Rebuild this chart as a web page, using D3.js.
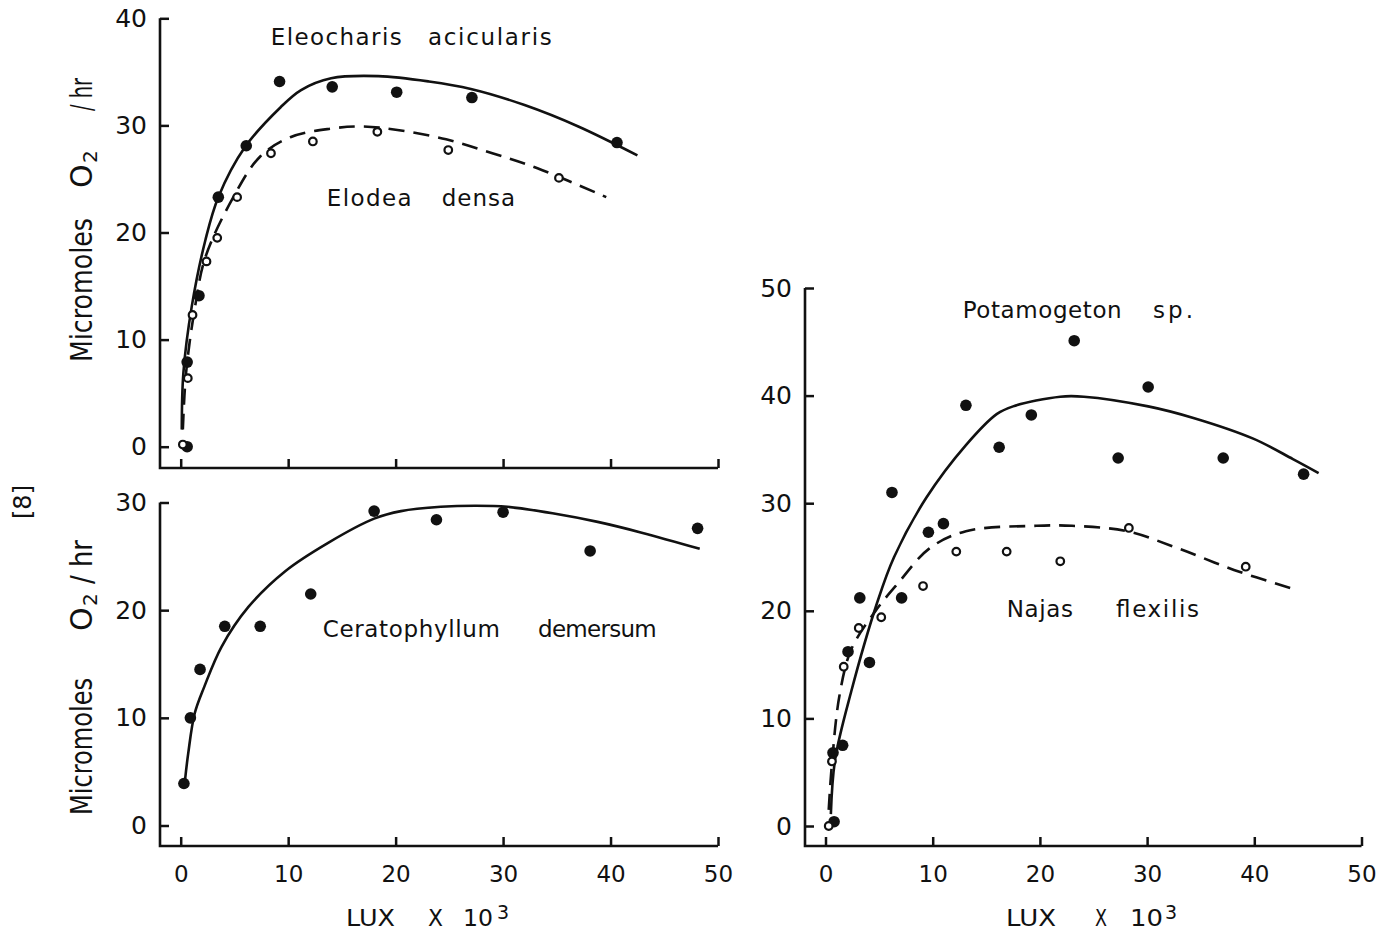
<!DOCTYPE html>
<html>
<head>
<meta charset="utf-8">
<script src="https://cdn.jsdelivr.net/npm/d3@7"></script>
<style>
body { margin: 0; background: #fff; }
svg { display: block; font-family: "DejaVu Sans", sans-serif; }
</style>
</head>
<body>
<script>
// values: x = lux x 10^3, y = micromoles O2 / hr

// top left: Eleocharis acicularis (filled) and Elodea densa (open)
const eleocharisPts = [[0.6,0],[0.6,7.9],[1.7,14.1],[3.5,23.3],[6.1,28.1],[9.2,34.1],[14.1,33.6],[20.1,33.1],[27.1,32.6],[40.6,28.4]];
const eleocharisCurve = [[0.1,1.6],[0.25,6.9],[1.03,13.1],[2.3,19.3],[3.5,23.3],[6.0,28],[9.3,31.7],[11.2,33.3],[14,34.4],[18.4,34.6],[23.1,34.1],[27,33.4],[32,31.9],[37,29.9],[42.5,27.2]];
const elodeaPts = [[0.2,0.2],[0.66,6.4],[1.1,12.3],[2.4,17.3],[3.4,19.5],[5.25,23.3],[8.4,27.4],[12.3,28.5],[18.3,29.4],[24.9,27.7],[35.2,25.1]];
const elodeaCurve = [[0.2,1.6],[0.5,6.9],[1.34,13.1],[2.3,17.7],[4.9,23.3],[7.4,27.1],[10.2,28.9],[14,29.7],[16.8,29.9],[20,29.6],[24.7,28.7],[29,27.4],[33.2,26],[39.6,23.3]];

// bottom left: Ceratophyllum demersum
const ceratoPts = [[0.3,3.9],[0.9,10],[1.8,14.5],[4.1,18.5],[7.4,18.5],[12.1,21.5],[18,29.2],[23.8,28.4],[30,29.1],[38.1,25.5],[48.1,27.6]];
const ceratoCurve = [[0.4,4.2],[0.7,6.7],[1.3,10.4],[2.2,12.9],[3.8,16.6],[6.3,20.3],[9.7,23.6],[13.8,26.3],[18,28.5],[20.5,29.2],[24.2,29.6],[27.5,29.7],[30.4,29.6],[34.6,29.0],[38.8,28.2],[42.9,27.2],[48.3,25.7]];

// right: Potamogeton sp. (filled) and Najas flexilis (open)
const potamoPts = [[0.8,0.4],[0.7,6.8],[1.6,7.5],[2.1,16.2],[3.2,21.2],[4.1,15.2],[6.2,31],[7.1,21.2],[9.6,27.3],[11,28.1],[13.1,39.1],[16.2,35.2],[19.2,38.2],[23.2,45.1],[27.3,34.2],[30.1,40.8],[37.1,34.2],[44.6,32.7]];
const potamoCurve = [[0.5,1.1],[0.9,6.2],[2.4,12.5],[4.8,20.7],[6.4,25],[9.4,30.5],[13.1,35.4],[16,38.3],[17.5,39],[21.9,39.9],[24.1,39.9],[30.1,39],[34.4,37.9],[39.9,36],[43.6,34.1],[46,32.8]];
const najasPts = [[0.3,0],[0.6,6],[1.7,14.8],[3.1,18.4],[5.2,19.4],[9.1,22.3],[12.2,25.5],[16.9,25.5],[21.9,24.6],[28.3,27.7],[39.2,24.1]];
const najasCurve = [[0.3,1.5],[0.6,5.8],[1.3,12.1],[2.4,16.4],[4.6,19.9],[6.8,22.6],[9.7,25.8],[13.1,27.4],[19.7,27.9],[23,27.9],[28.1,27.4],[32.9,25.8],[38.1,23.8],[43.4,22.1]];

const xTicks = [0, 10, 20, 30, 40, 50];
const yTicksTop = [0, 10, 20, 30, 40];
const yTicksBottom = [0, 10, 20, 30];
const yTicksRight = [0, 10, 20, 30, 40, 50];

var width = 1381, height = 931;
var svg = d3.select("body").append("svg")
    .attr("width", width)
    .attr("height", height);

var panels = [
    {
        axisX: 160, axisY: 468, xr: [180.7, 718], yr: [446.7, 18.3], ymax: 40,
        yTicks: yTicksTop, xLabels: false,
        series: [
            { pts: eleocharisPts, curve: eleocharisCurve, open: false },
            { pts: elodeaPts, curve: elodeaCurve, open: true }
        ],
        names: [
            { words: ["Eleocharis", "acicularis"], x: [270.7, 428], len: [131, 123.7], y: 45 },
            { words: ["Elodea", "densa"], x: [326.7, 441.7], len: [85, 73.3], y: 206 }
        ]
    },
    {
        axisX: 160, axisY: 846, xr: [180.7, 718], yr: [825.5, 502.5], ymax: 30,
        yTicks: yTicksBottom, xLabels: true,
        series: [
            { pts: ceratoPts, curve: ceratoCurve, open: false }
        ],
        names: [
            { words: ["Ceratophyllum", "demersum"], x: [322.7, 538], len: [177.3, 118.7], y: 637 }
        ]
    },
    {
        axisX: 805, axisY: 846, xr: [825.5, 1361.5], yr: [826, 288], ymax: 50,
        yTicks: yTicksRight, xLabels: true,
        series: [
            { pts: potamoPts, curve: potamoCurve, open: false },
            { pts: najasPts, curve: najasCurve, open: true }
        ],
        names: [
            { words: ["Potamogeton", "sp."], x: [962.7, 1153], len: [159, 40], y: 318 },
            { words: ["Najas", "flexilis"], x: [1006.7, 1116], len: [66.3, 83], y: 617 }
        ]
    }
];

function styleAxis(a, size) {
    a.select(".domain").remove();
    a.attr("font-family", null).attr("font-size", null);
    a.selectAll("line").attr("stroke", "#111").attr("stroke-width", 2.5);
    a.selectAll("text").attr("fill", "#111").attr("font-size", size);
}

panels.forEach(p => {
    var x = d3.scaleLinear().domain([0, 50]).range(p.xr);
    var y = d3.scaleLinear().domain([0, p.ymax]).range(p.yr);
    var g = svg.append("g");

    // axis frame (left + bottom)
    g.append("path")
        .attr("d", "M" + p.axisX + "," + y(p.ymax) + "V" + p.axisY + "H" + x(50))
        .attr("fill", "none")
        .attr("stroke", "#111")
        .attr("stroke-width", 2.6);

    g.append("g")
        .attr("transform", "translate(0," + p.axisY + ")")
        .call(d3.axisBottom(x).tickValues(xTicks).tickSizeInner(-9).tickSizeOuter(0).tickPadding(20)
            .tickFormat(p.xLabels ? d3.format("d") : ""))
        .call(a => styleAxis(a, 23));

    g.append("g")
        .attr("transform", "translate(" + p.axisX + ",0)")
        .call(d3.axisLeft(y).tickValues(p.yTicks).tickSizeInner(-9).tickSizeOuter(0).tickPadding(13)
            .tickFormat(d3.format("d")))
        .call(a => styleAxis(a, 25));

    var line = d3.line()
        .x(d => x(d[0]))
        .y(d => y(d[1]))
        .curve(d3.curveCatmullRom.alpha(0.5));

    p.series.forEach(s => {
        g.append("path")
            .attr("d", line(s.curve))
            .attr("fill", "none")
            .attr("stroke", "#111")
            .attr("stroke-width", 2.6)
            .attr("stroke-dasharray", s.open ? "16,9" : null);

        g.selectAll(null)
            .data(s.pts)
            .join("circle")
            .attr("cx", d => x(d[0]))
            .attr("cy", d => y(d[1]))
            .attr("r", s.open ? 3.8 : 5.8)
            .attr("fill", s.open ? "#fff" : "#111")
            .attr("stroke", "#111")
            .attr("stroke-width", s.open ? 2.2 : 0);
    });

    p.names.forEach(n => {
        n.words.forEach((w, i) => {
            g.append("text")
                .attr("x", n.x[i])
                .attr("y", n.y)
                .attr("textLength", n.len[i])
                .attr("lengthAdjust", "spacing")
                .attr("font-size", 23)
                .attr("fill", "#111")
                .text(w);
        });
    });
});

// y axis titles, rotated
function yTitle(mic, o, two, hr) {
    var t = svg.append("g")
        .attr("transform", "translate(92,0) rotate(-90)")
        .attr("fill", "#111");
    t.append("text").attr("x", -mic[0]).attr("y", 0).attr("font-size", 30)
        .attr("textLength", mic[0] - mic[1]).attr("lengthAdjust", "spacingAndGlyphs").text("Micromoles");
    t.append("text").attr("x", -o).attr("y", 0).attr("font-size", 30).text("O");
    t.append("text").attr("x", -two).attr("y", 5).attr("font-size", 20).text("2");
    t.append("text").attr("x", -hr[0]).attr("y", 0).attr("font-size", 30)
        .attr("textLength", hr[0] - hr[1]).attr("lengthAdjust", "spacingAndGlyphs").text("/ hr");
}
yTitle([362, 218], 188, 163, [111, 78]);
yTitle([815, 678], 631, 606, [584, 540]);

// x axis titles
function xTitle(lux, xx, ten, three) {
    var t = svg.append("g").attr("fill", "#111").attr("font-size", 23);
    t.append("text").attr("x", lux[0]).attr("y", 926).attr("textLength", lux[1] - lux[0])
        .attr("lengthAdjust", "spacingAndGlyphs").text("LUX");
    t.append("text").attr("x", xx[0]).attr("y", 926).attr("textLength", xx[1] - xx[0])
        .attr("lengthAdjust", "spacingAndGlyphs").text("X");
    t.append("text").attr("x", ten[0]).attr("y", 926).attr("textLength", ten[1] - ten[0])
        .attr("lengthAdjust", "spacingAndGlyphs").text("10");
    t.append("text").attr("x", three).attr("y", 919).attr("font-size", 19).text("3");
}
xTitle([346, 395], [428, 443], [463, 493], 497);
xTitle([1006, 1056], [1095, 1107], [1130, 1163], 1165);

// page number in the margin
svg.append("text")
    .attr("transform", "translate(31,502) rotate(-90)")
    .attr("text-anchor", "middle")
    .attr("font-size", 24)
    .attr("fill", "#111")
    .text("[8]");
</script>
</body>
</html>
